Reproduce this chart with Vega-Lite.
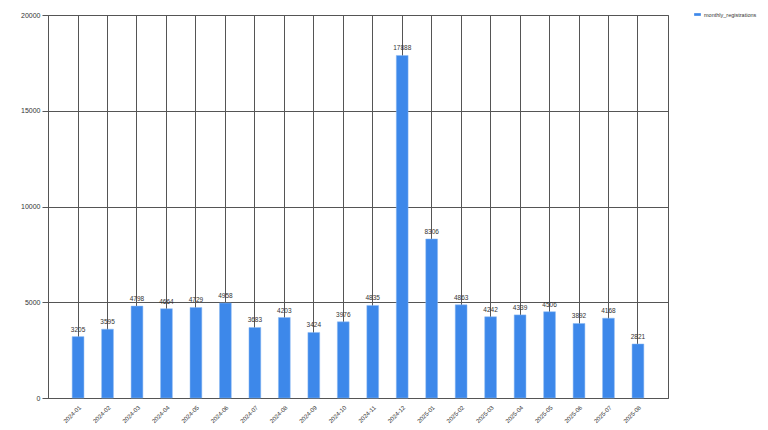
{
  "$schema": "https://vega.github.io/schema/vega-lite/v6.json",
  "width": 620,
  "height": 383,
  "autosize": {"type": "none"},
  "padding": {"left": 48, "top": 15, "right": 100, "bottom": 32},
  "background": "white",
  "config": {
    "view": {"stroke": "#555555", "strokeWidth": 1},
    "font": "Liberation Sans"
  },
  "data": {
    "values": [
      {"month": "2024-01", "monthly_registrations": 3205},
      {"month": "2024-02", "monthly_registrations": 3595},
      {"month": "2024-03", "monthly_registrations": 4798},
      {"month": "2024-04", "monthly_registrations": 4664},
      {"month": "2024-05", "monthly_registrations": 4729},
      {"month": "2024-06", "monthly_registrations": 4958},
      {"month": "2024-07", "monthly_registrations": 3683},
      {"month": "2024-08", "monthly_registrations": 4203},
      {"month": "2024-09", "monthly_registrations": 3424},
      {"month": "2024-10", "monthly_registrations": 3976},
      {"month": "2024-11", "monthly_registrations": 4835},
      {"month": "2024-12", "monthly_registrations": 17888},
      {"month": "2025-01", "monthly_registrations": 8306},
      {"month": "2025-02", "monthly_registrations": 4863},
      {"month": "2025-03", "monthly_registrations": 4242},
      {"month": "2025-04", "monthly_registrations": 4339},
      {"month": "2025-05", "monthly_registrations": 4506},
      {"month": "2025-06", "monthly_registrations": 3892},
      {"month": "2025-07", "monthly_registrations": 4168},
      {"month": "2025-08", "monthly_registrations": 2821}
    ]
  },
  "encoding": {
    "x": {
      "field": "month",
      "type": "ordinal",
      "scale": {"paddingInner": 0.6, "paddingOuter": 0.82},
      "axis": {
        "title": null,
        "labelAngle": -45,
        "labelFontSize": 6,
        "labelColor": "#333333",
        "grid": true,
        "gridColor": "#555555",
        "gridWidth": 1,
        "gridOpacity": 1,
        "domain": false,
        "ticks": false,
        "labelPadding": 6
      }
    },
    "y": {
      "field": "monthly_registrations",
      "type": "quantitative",
      "scale": {"domain": [0, 20000], "nice": false},
      "axis": {
        "title": null,
        "values": [0, 5000, 10000, 15000, 20000],
        "format": "d",
        "labelFontSize": 7,
        "labelColor": "#333333",
        "grid": true,
        "gridColor": "#555555",
        "gridOpacity": 1,
        "domainColor": "#555555",
        "tickColor": "#555555",
        "tickSize": 6,
        "labelPadding": 2
      }
    }
  },
  "layer": [
    {
      "mark": {"type": "bar", "stroke": "#8ab8f2", "strokeWidth": 0.5},
      "encoding": {
        "color": {
          "datum": "monthly_registrations",
          "type": "nominal",
          "scale": {"range": ["#3d88ea"]},
          "legend": {
            "title": null,
            "orient": "none",
            "legendX": 646,
            "legendY": -4,
            "symbolType": "M-1,-0.4H1V0.4H-1Z",
            "symbolSize": 45,
            "symbolStrokeWidth": 0,
            "labelOffset": 3,
            "labelFontSize": 5.5,
            "labelColor": "#333333"
          }
        }
      }
    },
    {
      "mark": {"type": "text", "dy": -4, "fontSize": 6.5, "fill": "#333333", "baseline": "bottom"},
      "encoding": {"text": {"field": "monthly_registrations", "type": "quantitative", "format": "d"}}
    }
  ]
}
